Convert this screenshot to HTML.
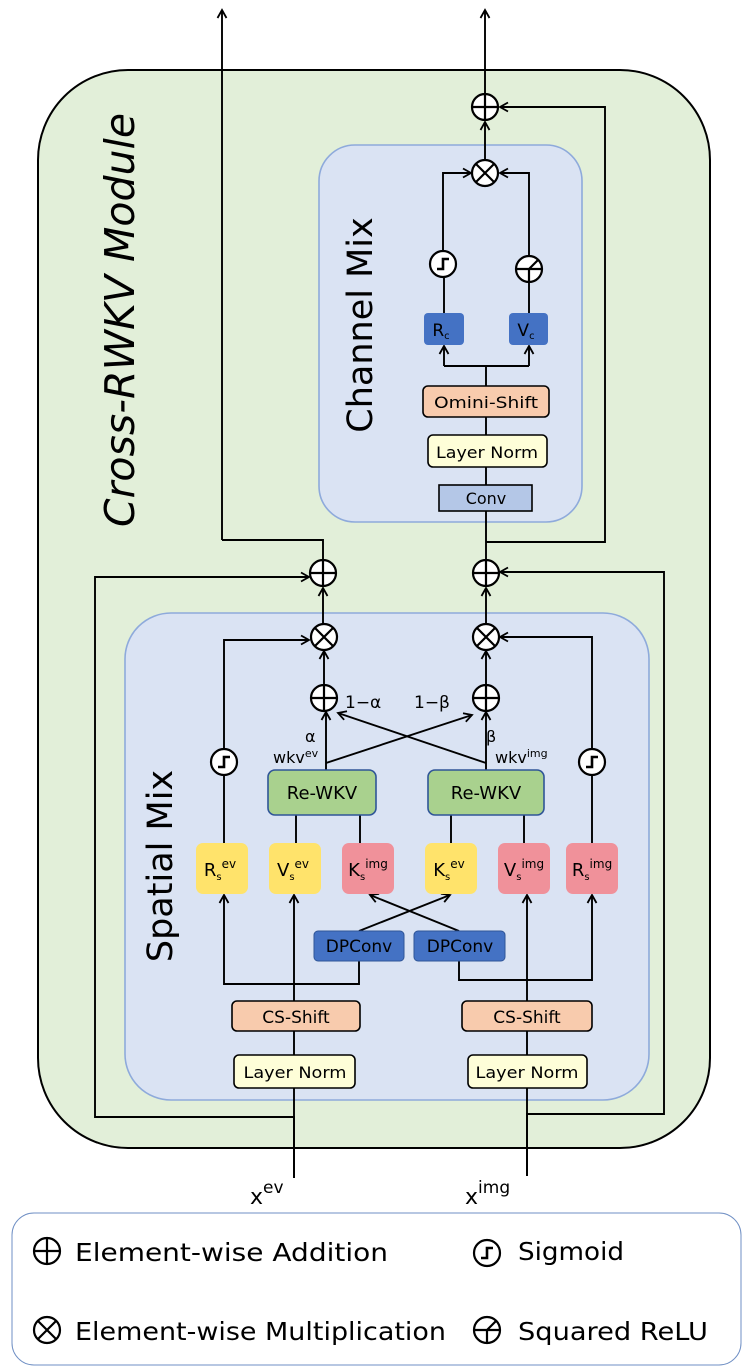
<!DOCTYPE html>
<html><head><meta charset="utf-8"><style>
html,body{margin:0;padding:0;background:#fff;}
svg{display:block;font-family:"DejaVu Sans","Liberation Sans",sans-serif;}
</style></head><body>
<svg width="748" height="1370" viewBox="0 0 748 1370" xmlns="http://www.w3.org/2000/svg">
<defs>
<marker id="a" markerWidth="12" markerHeight="12" refX="9" refY="6" orient="auto" markerUnits="userSpaceOnUse">
<path d="M1,1.5 L9,6 L1,10.5" fill="none" stroke="#000" stroke-width="1.8"/></marker>
<g id="plus"><circle r="13" fill="#fff" stroke="#000" stroke-width="2.2"/><path d="M-13,0H13M0,-13V13" stroke="#000" stroke-width="2.2"/></g>
<g id="mul"><circle r="13" fill="#fff" stroke="#000" stroke-width="2.2"/><path d="M-9,-9L9,9M9,-9L-9,9" stroke="#000" stroke-width="2.2"/></g>
<g id="sig"><circle r="13" fill="#fff" stroke="#000" stroke-width="2.2"/><path d="M-6,5H0V-5H6" fill="none" stroke="#000" stroke-width="2.6"/></g>
<g id="relu"><circle r="13" fill="#fff" stroke="#000" stroke-width="2.2"/><path d="M-13,0H13M0,0V13M0,0L9,-9" fill="none" stroke="#000" stroke-width="2.2"/></g>
</defs>

<rect x="38" y="70" width="672" height="1078" rx="90" fill="#e2efd9" stroke="#000" stroke-width="2"/>
<text transform="translate(134,320) rotate(-90)" text-anchor="middle" font-size="41" font-style="italic">Cross-RWKV Module</text>

<rect x="319" y="145" width="263" height="377" rx="36" fill="#dae3f3" stroke="#8eaadb" stroke-width="1.6"/>
<text transform="translate(372,325) rotate(-90)" text-anchor="middle" font-size="35">Channel Mix</text>

<rect x="125" y="613" width="524" height="487" rx="46" fill="#dae3f3" stroke="#8eaadb" stroke-width="1.6"/>
<text transform="translate(172,866) rotate(-90)" text-anchor="middle" font-size="35">Spatial Mix</text>

<g stroke="#000" stroke-width="1.9" fill="none">
<path d="M485,94V10" marker-end="url(#a)"/>
<path d="M222,540V10" marker-end="url(#a)"/>
<path d="M323,560V540H222"/>
<path d="M486,560V511"/>
<path d="M486,542H605V107H500" marker-end="url(#a)"/>
<path d="M486,486V467M486,436V417M486,386V366M444,366H529"/>
<path d="M444,366V346" marker-end="url(#a)"/>
<path d="M529,366V346" marker-end="url(#a)"/>
<path d="M444,313V278M529,313V283"/>
<path d="M443,251V173H471" marker-end="url(#a)"/>
<path d="M529,256V173H500" marker-end="url(#a)"/>
<path d="M485,160V122" marker-end="url(#a)"/>
<path d="M323,624V588" marker-end="url(#a)"/>
<path d="M486,624V588" marker-end="url(#a)"/>
<path d="M294,1178V1117H95V577H309" marker-end="url(#a)"/>
<path d="M527,1176V1114H664V572H500" marker-end="url(#a)"/>
<path d="M324,684V651" marker-end="url(#a)"/>
<path d="M486,684V651" marker-end="url(#a)"/>
<path d="M224,749V640H309" marker-end="url(#a)"/>
<path d="M592,749V637H500" marker-end="url(#a)"/>
<path d="M224,843V775M592,843V775"/>
<path d="M326,770V712" marker-end="url(#a)"/>
<path d="M486,770V712" marker-end="url(#a)"/>
<path d="M326,763L472,715" marker-end="url(#a)"/>
<path d="M486,763L338,713" marker-end="url(#a)"/>
<path d="M296,843V815M360,843V815M451,843V815M524,843V815"/>
<path d="M294,1088V1178M294,1055V1031M294,1001V895" marker-end="url(#a)"/>
<path d="M527,1088V1176M527,1055V1031M527,1001V895" marker-end="url(#a)"/>
<path d="M359,961V984H224V895" marker-end="url(#a)"/>
<path d="M459,961V980H592V895" marker-end="url(#a)"/>
<path d="M359,931L450,895" marker-end="url(#a)"/>
<path d="M459,931L370,895" marker-end="url(#a)"/>
</g>

<use href="#plus" x="485" y="107"/>
<use href="#mul" x="485" y="173"/>
<use href="#sig" x="443" y="264"/>
<use href="#relu" x="529" y="269"/>
<use href="#plus" x="323" y="573"/>
<use href="#plus" x="486" y="573"/>
<use href="#mul" x="324" y="637"/>
<use href="#mul" x="486" y="637"/>
<use href="#plus" x="324" y="698"/>
<use href="#plus" x="486" y="698"/>
<use href="#sig" x="224" y="762"/>
<use href="#sig" x="592" y="762"/>

<g font-size="16" text-anchor="middle">
<rect x="424" y="313" width="40" height="32" rx="4" fill="#4472c4"/>
<text x="441" y="336" font-size="17">R<tspan font-size="10" dy="3">c</tspan></text>
<rect x="509" y="313" width="39" height="32" rx="4" fill="#4472c4"/>
<text x="526" y="336" font-size="17">V<tspan font-size="10" dy="3">c</tspan></text>
<rect x="423" y="386" width="126" height="31" rx="5" fill="#f8cbad" stroke="#000" stroke-width="1.6"/>
<text x="486" y="408" textLength="104" lengthAdjust="spacingAndGlyphs">Omini-Shift</text>
<rect x="428" y="435" width="119" height="32" rx="5" fill="#fefed8" stroke="#000" stroke-width="1.6"/>
<text x="487" y="458" textLength="102" lengthAdjust="spacingAndGlyphs">Layer Norm</text>
<rect x="439" y="485" width="93" height="26" fill="#b4c7e7" stroke="#000" stroke-width="1.6"/>
<text x="486" y="504">Conv</text>

<rect x="268" y="770" width="108" height="45" rx="7" fill="#a9d18e" stroke="#2f5597" stroke-width="1.6"/>
<text x="322" y="799" font-size="18">Re-WKV</text>
<rect x="428" y="770" width="116" height="45" rx="7" fill="#a9d18e" stroke="#2f5597" stroke-width="1.6"/>
<text x="486" y="799" font-size="18">Re-WKV</text>

<g font-size="18">
<rect x="196" y="843" width="52" height="51" rx="7" fill="#ffe36b"/>
<text x="220" y="876">R<tspan font-size="10" dy="4">s</tspan><tspan font-size="12" dy="-12">ev</tspan></text>
<rect x="269" y="843" width="52" height="51" rx="7" fill="#ffe36b"/>
<text x="293" y="876">V<tspan font-size="10" dy="4">s</tspan><tspan font-size="12" dy="-12">ev</tspan></text>
<rect x="342" y="843" width="52" height="51" rx="7" fill="#f0919a"/>
<text x="368" y="876">K<tspan font-size="10" dy="4">s</tspan><tspan font-size="12" dy="-12">img</tspan></text>
<rect x="425" y="843" width="52" height="51" rx="7" fill="#ffe36b"/>
<text x="449" y="876">K<tspan font-size="10" dy="4">s</tspan><tspan font-size="12" dy="-12">ev</tspan></text>
<rect x="498" y="843" width="52" height="51" rx="7" fill="#f0919a"/>
<text x="524" y="876">V<tspan font-size="10" dy="4">s</tspan><tspan font-size="12" dy="-12">img</tspan></text>
<rect x="566" y="843" width="52" height="51" rx="7" fill="#f0919a"/>
<text x="592" y="876">R<tspan font-size="10" dy="4">s</tspan><tspan font-size="12" dy="-12">img</tspan></text>
</g>

<rect x="314" y="931" width="90" height="30" rx="4" fill="#4472c4" stroke="#2f5597"/>
<text x="359" y="952" font-size="17">DPConv</text>
<rect x="414" y="931" width="91" height="30" rx="4" fill="#4472c4" stroke="#2f5597"/>
<text x="460" y="952" font-size="17">DPConv</text>

<rect x="232" y="1001" width="128" height="30" rx="5" fill="#f8cbad" stroke="#000" stroke-width="1.6"/>
<text x="296" y="1023" font-size="17">CS-Shift</text>
<rect x="462" y="1001" width="130" height="30" rx="5" fill="#f8cbad" stroke="#000" stroke-width="1.6"/>
<text x="527" y="1023" font-size="17">CS-Shift</text>
<rect x="234" y="1055" width="121" height="33" rx="5" fill="#fefed8" stroke="#000" stroke-width="1.6"/>
<text x="295" y="1078" textLength="103" lengthAdjust="spacingAndGlyphs">Layer Norm</text>
<rect x="468" y="1055" width="119" height="33" rx="5" fill="#fefed8" stroke="#000" stroke-width="1.6"/>
<text x="527" y="1078" textLength="103" lengthAdjust="spacingAndGlyphs">Layer Norm</text>
</g>

<g font-size="16">
<text x="305" y="742">α</text>
<text x="273" y="763">wkv<tspan font-size="11" dy="-6">ev</tspan></text>
<text x="345" y="708" font-size="17">1−α</text>
<text x="414" y="708" font-size="17">1−β</text>
<text x="486" y="742">β</text>
<text x="495" y="763">wkv<tspan font-size="11" dy="-6">img</tspan></text>
</g>
<text x="250" y="1204" font-size="22">x<tspan font-size="17" dy="-11">ev</tspan></text>
<text x="465" y="1204" font-size="22">x<tspan font-size="17" dy="-11">img</tspan></text>

<rect x="12" y="1213" width="729" height="152" rx="22" fill="#fff" stroke="#6f8fc4" stroke-width="1"/>
<use href="#plus" x="47" y="1251"/>
<use href="#mul" x="47" y="1330"/>
<use href="#sig" x="487" y="1253"/>
<use href="#relu" x="487" y="1330"/>
<g font-size="25">
<text x="75" y="1261" textLength="313" lengthAdjust="spacingAndGlyphs">Element-wise Addition</text>
<text x="75" y="1340" textLength="371" lengthAdjust="spacingAndGlyphs">Element-wise Multiplication</text>
<text x="518" y="1260" textLength="106" lengthAdjust="spacingAndGlyphs">Sigmoid</text>
<text x="518" y="1340" textLength="190" lengthAdjust="spacingAndGlyphs">Squared ReLU</text>
</g>
</svg>
</body></html>
